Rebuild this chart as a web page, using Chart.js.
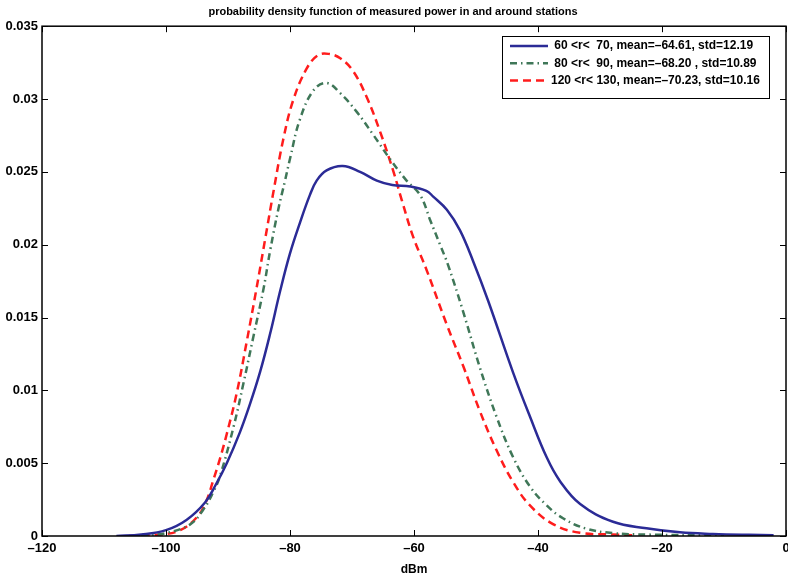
<!DOCTYPE html>
<html>
<head>
<meta charset="utf-8">
<script src="https://cdn.jsdelivr.net/npm/chart.js@4/dist/chart.umd.min.js"></script>
<style>
  html, body { margin: 0; padding: 0; background: #fff; }
  #wrap { width: 788px; height: 577px; }
</style>
</head>
<body>
<div id="wrap"><canvas id="myChart" width="788" height="577"></canvas></div>
<script>
// ---- data ----
let chart_title = "probability density function of measured power in and around stations";
let x_label = "dBm";

let labels_r = [" 60 <r<  70, mean=\u201364.61, std=12.19",
                " 80 <r<  90, mean=\u201368.20 , std=10.89",
                "120 <r< 130, mean=\u201370.23, std=10.16"];

let blue_x = [-108, -104, -100, -96.7, -93.7, -92.0, -90.2, -88.1, -86.5, -84.8, -83.2, -81.6, -80.0, -78.4, -76.8,
              -75.7, -74.1, -71.5, -68.7, -66.0, -63.5, -60.6, -58.0, -56.9, -54.7, -52.6, -50.4, -48.0,
              -44.0, -41.3, -38.6, -36.5, -33.2, -27.9, -22.5, -17.1, -11.8, -6, -2];
let blue_y = [0, 0.0001, 0.0004, 0.0011, 0.0023, 0.0035, 0.0050, 0.0071, 0.0090, 0.0113, 0.0139, 0.0168, 0.0194, 0.0215, 0.0234,
              0.0244, 0.0251, 0.0254, 0.0250, 0.0244, 0.0241, 0.0240, 0.0237, 0.0233, 0.0224, 0.0210, 0.0188, 0.0161,
              0.0112, 0.0082, 0.0054, 0.0038, 0.0022, 0.00098, 0.00053, 0.00025, 0.00014, 0.00008, 0.00006];

let green_x = [-104, -100, -96.1, -94.0, -92.4, -91.3, -89.1, -87.5, -85.9, -84.3, -83.2, -81.9, -80.8, -80.0, -78.4,
               -76.2, -74.1, -71.9, -69.2, -66.5, -63.9, -61.2, -59.0, -57.4, -55.8, -54.5, -52.0, -49.4, -46.7,
               -44.0, -41.3, -38.6, -35.9, -32.2, -27.9, -22.4, -10];
let green_y = [0, 0.0002, 0.0008, 0.0018, 0.0030, 0.0041, 0.0075, 0.0105, 0.0137, 0.0169, 0.0196, 0.0224, 0.0244, 0.0259, 0.0286,
               0.0306, 0.0311, 0.0304, 0.0291, 0.0275, 0.0259, 0.0244, 0.0234, 0.0217, 0.0200, 0.0186, 0.0153, 0.0116, 0.0082,
               0.0054, 0.0034, 0.0021, 0.0012, 0.0005, 0.0002, 0.0001, 0.00003];

let red_x = [-106, -101, -97.7, -95.0, -93.5, -92.4, -91.3, -90.2, -88.6, -87.0, -85.4, -84.0, -82.6, -81.1, -79.5,
             -77.3, -75.5, -73.8, -71.9, -69.8, -67.6, -65.5, -63.3, -62.0, -60.1, -58.0, -54.7, -52.0, -49.4,
             -46.7, -44.0, -41.3, -37.5, -33.2, -27.9, -24];
let red_y = [0, 0.0001, 0.0004, 0.0013, 0.0024, 0.0038, 0.0053, 0.0070, 0.0098, 0.0133, 0.0170, 0.0204, 0.0238, 0.0272, 0.0299,
             0.0321, 0.0330, 0.0331, 0.0328, 0.0319, 0.0301, 0.0278, 0.0250, 0.0231, 0.0205, 0.0183, 0.0145, 0.0116, 0.0086,
             0.0059, 0.0037, 0.0021, 0.0008, 0.00022, 0.0001, 0.00003];

function to_points(xs, ys) {
  return xs.map((x, i) => ({ x: x, y: ys[i] }));
}

function minus(v) {
  return String(v).replace("-", "\u2013");
}

// ---- frame, inward ticks and legend box ----
let matlab_look = {
  id: "matlab_look",
  afterDatasetsDraw(chart) {
    let ctx = chart.ctx;
    let a = chart.chartArea;
    let xs = chart.scales.x;
    let ys = chart.scales.y;
    ctx.save();
    ctx.strokeStyle = "#000";
    ctx.lineWidth = 1;
    ctx.beginPath();
    xs.ticks.forEach((t) => {
      let px = Math.round(xs.getPixelForValue(t.value)) + 0.5;
      ctx.moveTo(px, a.bottom); ctx.lineTo(px, a.bottom - 6);
      ctx.moveTo(px, a.top); ctx.lineTo(px, a.top + 6);
    });
    ys.ticks.forEach((t) => {
      let py = Math.round(ys.getPixelForValue(t.value)) + 0.5;
      ctx.moveTo(a.left, py); ctx.lineTo(a.left + 6, py);
      ctx.moveTo(a.right, py); ctx.lineTo(a.right - 6, py);
    });
    ctx.stroke();

    ctx.lineWidth = 1.5;
    ctx.strokeRect(a.left, a.top, a.right - a.left, a.bottom - a.top);

    // legend
    let bx = 502, by = 36, bw = 267, bh = 62;
    ctx.fillStyle = "#fff";
    ctx.fillRect(bx, by, bw, bh);
    ctx.lineWidth = 1;
    ctx.strokeRect(bx + 0.5, by + 0.5, bw, bh);
    ctx.font = "bold 12px 'Liberation Sans', Arial, sans-serif";
    ctx.textBaseline = "middle";
    chart.data.datasets.forEach((ds, i) => {
      let ry = 46 + i * 17.3;
      ctx.save();
      ctx.strokeStyle = ds.borderColor;
      ctx.lineWidth = ds.borderWidth;
      ctx.setLineDash(ds.borderDash || []);
      ctx.beginPath();
      ctx.moveTo(510, ry); ctx.lineTo(548, ry);
      ctx.stroke();
      ctx.restore();
      ctx.fillStyle = "#000";
      ctx.fillText(ds.label, 551, ry);
    });
    ctx.restore();
  }
};

new Chart("myChart", {
  type: "line",
  data: {
    datasets: [
      {
        label: labels_r[0],
        data: to_points(blue_x, blue_y),
        borderColor: "#2b2b96",
        borderWidth: 2.5,
        pointRadius: 0,
        tension: 0.4,
      },
      {
        label: labels_r[1],
        data: to_points(green_x, green_y),
        borderColor: "#3f7758",
        borderWidth: 2.5,
        borderDash: [7, 4, 1.5, 4],
        pointRadius: 0,
        tension: 0.4,
      },
      {
        label: labels_r[2],
        data: to_points(red_x, red_y),
        borderColor: "#ff1c1c",
        borderWidth: 2.5,
        borderDash: [8, 5],
        pointRadius: 0,
        tension: 0.4,
      },
    ],
  },
  options: {
    responsive: false,
    animation: false,
    layout: { padding: { left: 0, right: 2, top: 0, bottom: 0 } },
    plugins: {
      legend: { display: false },
      tooltip: { enabled: false },
      title: {
        display: true,
        text: chart_title,
        color: "#000",
        font: { family: "'Liberation Sans', Arial, sans-serif", size: 11, weight: "bold" },
        padding: { top: 5, bottom: 8 },
      },
    },
    scales: {
      x: {
        type: "linear",
        min: -120,
        max: 0,
        grid: { display: false, drawTicks: false },
        border: { display: false },
        ticks: {
          stepSize: 20,
          color: "#000",
          padding: 5,
          maxRotation: 0,
          font: { family: "'Liberation Sans', Arial, sans-serif", size: 13, weight: "bold" },
          callback: (v) => minus(v),
        },
        title: {
          display: true,
          text: x_label,
          color: "#000",
          padding: { top: 0, bottom: 0 },
          font: { family: "'Liberation Sans', Arial, sans-serif", size: 12, weight: "bold" },
        },
        afterFit: (s) => { s.height = 41; s.paddingLeft = 0; s.paddingRight = 0; },
      },
      y: {
        min: 0,
        max: 0.035,
        grid: { display: false, drawTicks: false },
        border: { display: false },
        ticks: {
          stepSize: 0.005,
          color: "#000",
          padding: 4,
          font: { family: "'Liberation Sans', Arial, sans-serif", size: 13, weight: "bold" },
          callback: (v) => String(+v.toFixed(3)),
        },
        afterFit: (s) => { s.width = 42; },
      },
    },
  },
  plugins: [matlab_look],
});
</script>
</body>
</html>
